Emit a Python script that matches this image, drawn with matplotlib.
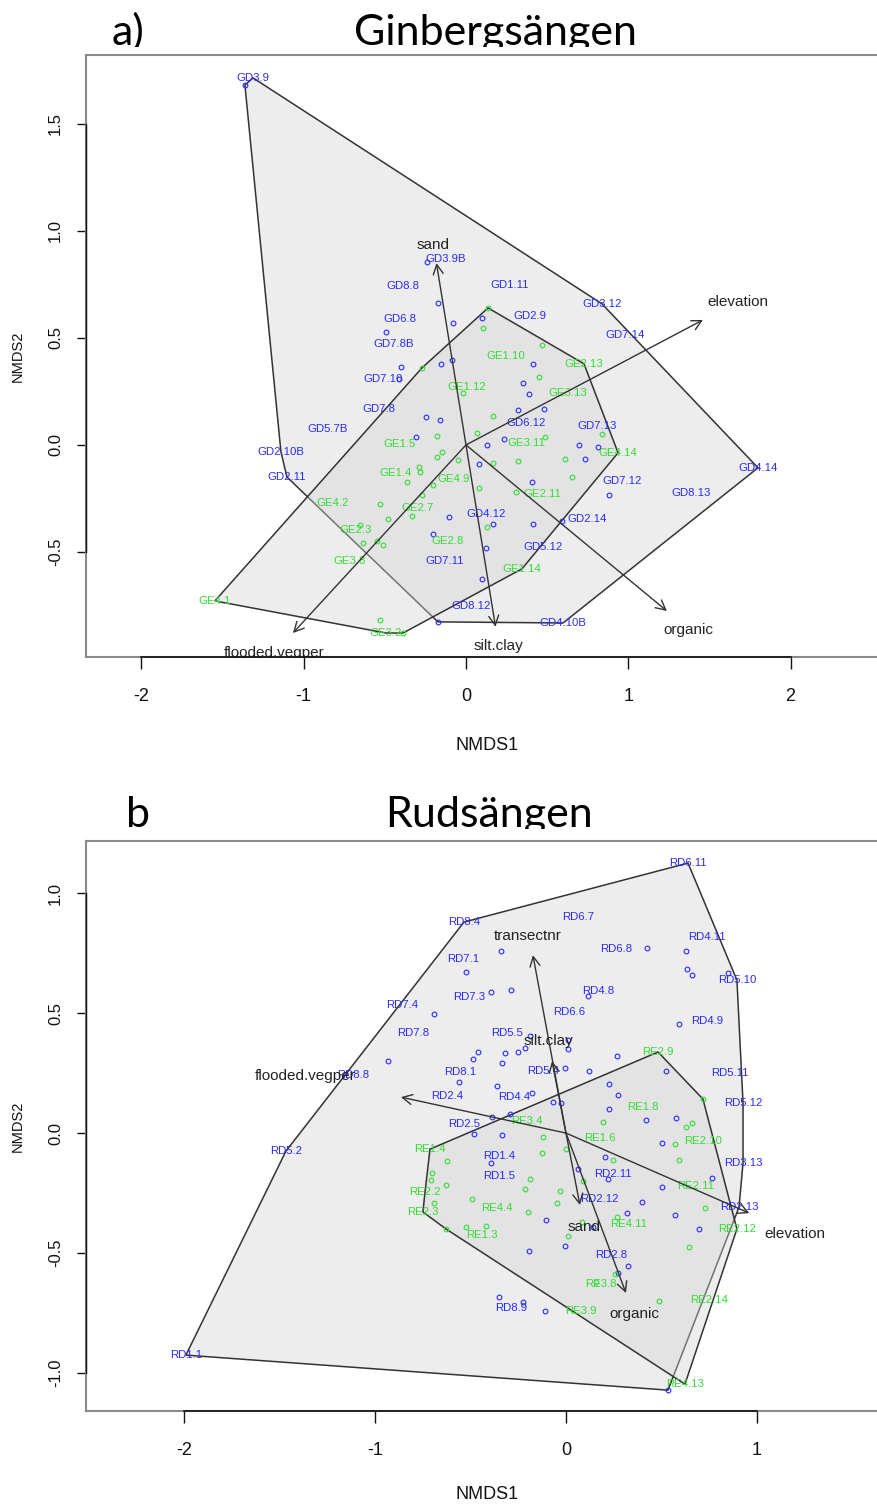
"""
NMDS ordinations of the two meadows with site hulls and fitted
environmental vectors (vegan style: orditorp + ordihull + envfit)
"""

import matplotlib
matplotlib.use('Agg')
import matplotlib.pyplot as plt
from matplotlib import font_manager
from matplotlib.patches import Polygon, Rectangle

# Globals
W, H = 878, 1505
installed = {f.name for f in font_manager.fontManager.ttflist}
NARROW = 'Liberation Sans Narrow' if 'Liberation Sans Narrow' in installed else 'Liberation Sans'
REGULAR = 'Liberation Sans'
TITLEFONT = 'Lato'
BLUE = '#2a2aff'
GREEN = '#33dd33'
HULL_EDGE = '#333333'
HULL_FILL = (0.83, 0.83, 0.83, 0.40)

# ---------------- Ginbergsängen ----------------
# labelled D sites
gd_names = ['GD3.9', 'GD3.9B', 'GD8.8', 'GD1.11', 'GD6.8', 'GD7.8B', 'GD2.9', 'GD3.12', 'GD7.14',
            'GD7.10', 'GD7.8', 'GD5.7B', 'GD2.10B', 'GD2.11', 'GD6.12', 'GD7.13', 'GD7.12', 'GD8.13',
            'GD4.14', 'GD4.12', 'GD2.14', 'GD5.12', 'GD7.11', 'GD8.12', 'GD4.10B']
gd_x = [-1.312, -0.123, -0.388, 0.271, -0.407, -0.444, 0.394, 0.838, 0.980,
        -0.511, -0.536, -0.850, -1.140, -1.103, 0.370, 0.807, 0.961, 1.386,
        1.799, 0.123, 0.746, 0.474, -0.129, 0.031, 0.598]
gd_y = [1.715, 0.869, 0.743, 0.748, 0.589, 0.472, 0.603, 0.659, 0.514,
        0.308, 0.168, 0.075, -0.033, -0.150, 0.103, 0.089, -0.168, -0.224,
        -0.107, -0.322, -0.346, -0.477, -0.542, -0.752, -0.832]
# unlabelled D sites (crowded, drawn as points)
gd_pt_x = [-1.362, -0.240, -0.173, -0.080, 0.099, -0.493, -0.086, -0.154, -0.400, -0.413,
           0.413, 0.351, 0.388, 0.320, 0.481, 0.234, 0.129, 0.080, 0.696, 0.813,
           0.733, 0.407, 0.881, -0.246, -0.160, -0.308, -0.105, 0.166, 0.413, 0.591,
           -0.203, 0.123, 0.099, -0.173]
gd_pt_y = [1.682, 0.855, 0.664, 0.570, 0.593, 0.528, 0.397, 0.379, 0.365, 0.308,
           0.379, 0.290, 0.238, 0.164, 0.168, 0.028, 0.000, -0.089, 0.000, -0.009,
           -0.065, -0.173, -0.234, 0.131, 0.117, 0.037, -0.336, -0.369, -0.369, -0.355,
           -0.416, -0.481, -0.626, -0.827]

ge_names = ['GE1.10', 'GE2.13', 'GE1.12', 'GE3.13', 'GE1.5', 'GE3.11', 'GE4.14', 'GE1.4', 'GE4.9',
            'GE2.11', 'GE4.2', 'GE2.7', 'GE2.3', 'GE2.8', 'GE3.8', 'GE1.14', 'GE4.1', 'GE3.2']
ge_x = [0.246, 0.727, 0.006, 0.628, -0.407, 0.370, 0.937, -0.431, -0.074,
        0.468, -0.819, -0.296, -0.678, -0.111, -0.715, 0.345, -1.547, -0.493]
ge_y = [0.416, 0.379, 0.271, 0.243, 0.005, 0.009, -0.037, -0.131, -0.159,
        -0.229, -0.271, -0.294, -0.397, -0.449, -0.542, -0.579, -0.729, -0.879]
ge_pt_x = [0.136, 0.105, 0.468, 0.450, -0.018, 0.166, 0.068, 0.487, -0.049, 0.166,
           0.320, 0.610, 0.653, 0.838, 0.080, 0.308, -0.271, -0.179, -0.148, -0.179,
           -0.290, -0.283, -0.364, -0.203, -0.271, -0.333, -0.530, -0.481, -0.653, -0.635,
           -0.548, -0.511, 0.129, -0.530, -0.388]
ge_pt_y = [0.640, 0.547, 0.467, 0.318, 0.243, 0.136, 0.056, 0.037, -0.070, -0.084,
           -0.075, -0.065, -0.150, 0.051, -0.201, -0.220, 0.360, 0.042, -0.033, -0.056,
           -0.103, -0.126, -0.173, -0.187, -0.234, -0.332, -0.276, -0.346, -0.374, -0.458,
           -0.449, -0.467, -0.383, -0.818, -0.879]

g_env = ['sand', 'elevation', 'organic', 'silt.clay', 'flooded.vegper']
g_env_x = [-0.182, 1.460, 1.238, 0.182, -1.066]
g_env_y = [0.850, 0.584, -0.776, -0.850, -0.879]
g_env_lab_x = [-0.203, 1.676, 1.368, 0.197, -1.183]
g_env_lab_y = [0.935, 0.668, -0.864, -0.939, -0.972]

# ---------------- Rudsängen ----------------
rd_names = ['RD8.4', 'RD7.1', 'RD7.3', 'RD7.4', 'RD7.8', 'RD5.5', 'RD8.8', 'RD8.1', 'RD2.4', 'RD4.4',
            'RD2.5', 'RD6.11', 'RD6.7', 'RD4.11', 'RD6.8', 'RD5.10', 'RD4.8', 'RD6.6', 'RD4.9',
            'RD5.11', 'RD5.4', 'RD5.12', 'RD5.2', 'RD1.4', 'RD1.5', 'RD8.9', 'RD1.1', 'RD2.11',
            'RD2.12', 'RD3.13', 'RD2.13', 'RD2.8']
rd_x = [-0.534, -0.539, -0.508, -0.859, -0.801, -0.309, -1.115, -0.555, -0.623, -0.272,
        -0.534, 0.639, 0.063, 0.738, 0.262, 0.895, 0.168, 0.016, 0.738,
        0.859, -0.120, 0.927, -1.466, -0.351, -0.351, -0.288, -1.990, 0.246,
        0.173, 0.927, 0.906, 0.236]
rd_y = [0.880, 0.726, 0.567, 0.534, 0.417, 0.417, 0.242, 0.254, 0.154, 0.150,
        0.038, 1.126, 0.901, 0.817, 0.767, 0.638, 0.592, 0.505, 0.467,
        0.250, 0.259, 0.125, -0.075, -0.096, -0.179, -0.730, -0.926, -0.171,
        -0.275, -0.125, -0.309, -0.509]
rd_pt_x = [-0.340, -0.524, -0.393, -0.288, -0.691, -0.932, -0.461, -0.487, -0.319, -0.251,
           -0.215, -0.188, -0.335, -0.560, -0.361, -0.178, -0.387, -0.293, -0.482, -0.335,
           0.424, 0.628, 0.634, 0.660, 0.848, 0.115, 0.592, 0.010, 0.010, 0.267,
           -0.005, 0.120, 0.524, -0.068, -0.026, 0.225, 0.272, 0.225, 0.419, 0.576,
           0.503, 0.204, 0.063, 0.220, 0.503, 0.764, 0.398, 0.319, 0.571, 0.696,
           -0.105, -0.194, -0.005, 0.141, 0.325, 0.272, -0.225, -0.110, 0.534, -0.351,
           -0.393]
rd_pt_y = [0.759, 0.671, 0.588, 0.596, 0.496, 0.300, 0.338, 0.309, 0.334, 0.338,
           0.354, 0.404, 0.292, 0.213, 0.196, 0.167, 0.067, 0.079, -0.004, -0.008,
           0.771, 0.759, 0.684, 0.659, 0.667, 0.571, 0.455, 0.388, 0.350, 0.321,
           0.271, 0.259, 0.259, 0.129, 0.125, 0.204, 0.158, 0.100, 0.054, 0.063,
           -0.042, -0.100, -0.150, -0.192, -0.225, -0.188, -0.288, -0.334, -0.342, -0.400,
           -0.363, -0.492, -0.471, -0.392, -0.555, -0.584, -0.705, -0.742, -1.072, -0.684,
           -0.125]

re_names = ['RE3.4', 'RE2.9', 'RE1.8', 'RE1.6', 'RE2.10', 'RE2.11', 'RE2.12', 'RE4.11', 'RE3.8',
            'RE3.9', 'RE2.14', 'RE4.13', 'RE1.4', 'RE2.2', 'RE2.3', 'RE4.4', 'RE1.3']
re_x = [-0.204, 0.482, 0.403, 0.178, 0.717, 0.681, 0.895, 0.330, 0.183,
        0.079, 0.749, 0.623, -0.712, -0.738, -0.749, -0.361, -0.440]
re_y = [0.050, 0.338, 0.108, -0.021, -0.033, -0.221, -0.400, -0.379, -0.630,
        -0.742, -0.696, -1.047, -0.067, -0.246, -0.329, -0.313, -0.425]
re_pt_x = [0.717, 0.194, 0.628, 0.660, -0.120, -0.126, 0.000, 0.246, 0.571, 0.592,
           -0.188, -0.215, -0.031, -0.047, 0.089, -0.199, 0.267, 0.728, 0.084, 0.010,
           0.644, 0.257, 0.157, 0.487, -0.623, -0.702, -0.707, -0.628, -0.492, -0.691,
           -0.628, -0.524, -0.419]
re_pt_y = [0.142, 0.046, 0.025, 0.042, -0.017, -0.083, -0.067, -0.113, -0.046, -0.113,
           -0.192, -0.234, -0.242, -0.292, -0.200, -0.329, -0.350, -0.313, -0.371, -0.430,
           -0.475, -0.588, -0.621, -0.701, -0.117, -0.167, -0.196, -0.217, -0.275, -0.292,
           -0.400, -0.392, -0.388]

r_env = ['transectnr', 'silt.clay', 'flooded.vegper', 'elevation', 'sand', 'organic']
r_env_x = [-0.173, -0.073, -0.864, 0.960, 0.073, 0.314]
r_env_y = [0.742, 0.300, 0.150, -0.334, -0.300, -0.667]
r_env_lab_x = [-0.199, -0.094, -1.366, 1.199, 0.094, 0.356]
r_env_lab_y = [0.822, 0.384, 0.238, -0.421, -0.392, -0.755]


def convex_hull(xs, ys):
    # monotone chain, same result as chull() in R
    pts = sorted(set(zip(xs, ys)))

    def cross(o, a, b):
        return (a[0] - o[0]) * (b[1] - o[1]) - (a[1] - o[1]) * (b[0] - o[0])

    lower, upper = [], []
    for p in pts:
        while len(lower) >= 2 and cross(lower[-2], lower[-1], p) <= 0:
            lower.pop()
        lower.append(p)
    for p in reversed(pts):
        while len(upper) >= 2 and cross(upper[-2], upper[-1], p) <= 0:
            upper.pop()
        upper.append(p)
    return lower[:-1] + upper[:-1]


def draw_panel(ax, p):
    ax.set_xlim(p['xlim'])
    ax.set_ylim(p['ylim'])

    # hulls first, E drawn over D
    for xs, ys in [(p['d_x'] + p['d_pt_x'], p['d_y'] + p['d_pt_y']),
                   (p['e_x'] + p['e_pt_x'], p['e_y'] + p['e_pt_y'])]:
        poly = Polygon(convex_hull(xs, ys), closed=True, facecolor=HULL_FILL,
                       edgecolor=HULL_EDGE, lw=1.1, zorder=1)
        ax.add_patch(poly)

    # sites: labels where there is room, 'o' otherwise
    for names, xs, ys, pxs, pys, col in [
            (p['d_names'], p['d_x'], p['d_y'], p['d_pt_x'], p['d_pt_y'], BLUE),
            (p['e_names'], p['e_x'], p['e_y'], p['e_pt_x'], p['e_pt_y'], GREEN)]:
        ax.plot(pxs, pys, 'o', ms=3.4, mfc='none', mec=col, mew=0.8, ls='none', zorder=3)
        for n, x, y in zip(names, xs, ys):
            ax.text(x, y, n, color=col, fontsize=8.2, family=NARROW,
                    ha='center', va='center', clip_on=True, zorder=3)

    # envfit vectors
    for n, x, y, lx, ly in zip(p['env'], p['env_x'], p['env_y'], p['env_lab_x'], p['env_lab_y']):
        ax.annotate('', xy=(x, y), xytext=(0, 0), zorder=4,
                    arrowprops=dict(arrowstyle='->,head_length=0.35,head_width=0.18',
                                    color=HULL_EDGE, lw=1.0, shrinkA=0, shrinkB=0,
                                    mutation_scale=20))
        ax.text(lx, ly, n, color='#222222', fontsize=11, family=NARROW,
                ha='center', va='center', clip_on=True, zorder=4)

    # R style frame: grey box, black axis line between first and last tick
    for s in ax.spines.values():
        s.set_color('#8a8a8a')
        s.set_linewidth(1.5)
    xt, yt = p['xticks'], p['yticks']
    ax.set_xticks(xt)
    ax.set_xticklabels([str(int(v)) for v in xt], family=NARROW, fontsize=13)
    ax.set_yticks(yt)
    ax.set_yticklabels(['%.1f' % v for v in yt], family=REGULAR, fontsize=12,
                       rotation=90, va='center')
    ax.tick_params(axis='x', length=8.6, width=1.0, pad=13.5, colors='#111111')
    ax.tick_params(axis='y', length=6.5, width=1.0, pad=10, colors='#111111')
    y0, x0 = p['ylim'][0], p['xlim'][0]
    ax.plot([xt[0], xt[-1]], [y0, y0], color='#111111', lw=1.2, clip_on=False, zorder=5)
    ax.plot([x0, x0], [yt[0], yt[-1]], color='#111111', lw=1.0, clip_on=False, zorder=5)

    ax.text(0.5, -0.147, 'NMDS1', transform=ax.transAxes, ha='center', va='center',
            family=NARROW, fontsize=13, color='#111111')
    ax.text(-0.085, 0.5, 'NMDS2', transform=ax.transAxes, ha='center', va='center',
            rotation=90, family=REGULAR, fontsize=10.5, color='#111111')


def panel_title(fig, letter, name, letter_x, name_x, base_y, cut_y):
    # heading box sits above the plot and cuts the descenders
    clip = Rectangle((0, 1 - cut_y / H), 1, cut_y / H, transform=fig.transFigure)
    for txt, xpos in [(letter, letter_x), (name, name_x)]:
        t = fig.text(xpos / W, 1 - base_y / H, txt, ha='center', va='baseline',
                     family=TITLEFONT, fontsize=31, color='black')
        t.set_clip_path(clip)


fig = plt.figure(figsize=(W / 100, H / 100), dpi=100)
fig.patch.set_facecolor('white')

ax1 = fig.add_axes([86 / W, 1 - 657 / H, 802 / W, 602 / H])
ax2 = fig.add_axes([86 / W, 1 - 1411 / H, 802 / W, 570 / H])

panel_a = dict(xlim=(-2.341, 2.600), ylim=(-0.991, 1.822),
               d_names=gd_names, d_x=gd_x, d_y=gd_y, d_pt_x=gd_pt_x, d_pt_y=gd_pt_y,
               e_names=ge_names, e_x=ge_x, e_y=ge_y, e_pt_x=ge_pt_x, e_pt_y=ge_pt_y,
               env=g_env, env_x=g_env_x, env_y=g_env_y,
               env_lab_x=g_env_lab_x, env_lab_y=g_env_lab_y,
               xticks=[-2, -1, 0, 1, 2], yticks=[-0.5, 0.0, 0.5, 1.0, 1.5])
panel_b = dict(xlim=(-2.513, 1.686), ylim=(-1.159, 1.218),
               d_names=rd_names, d_x=rd_x, d_y=rd_y, d_pt_x=rd_pt_x, d_pt_y=rd_pt_y,
               e_names=re_names, e_x=re_x, e_y=re_y, e_pt_x=re_pt_x, e_pt_y=re_pt_y,
               env=r_env, env_x=r_env_x, env_y=r_env_y,
               env_lab_x=r_env_lab_x, env_lab_y=r_env_lab_y,
               xticks=[-2, -1, 0, 1], yticks=[-1.0, -0.5, 0.0, 0.5, 1.0])

draw_panel(ax1, panel_a)
draw_panel(ax2, panel_b)

panel_title(fig, 'a)', 'Ginbergsängen', 128, 495, 45, 47)
panel_title(fig, 'b', 'Rudsängen', 138, 489, 827, 829)

fig.savefig('out.png', dpi=100)
